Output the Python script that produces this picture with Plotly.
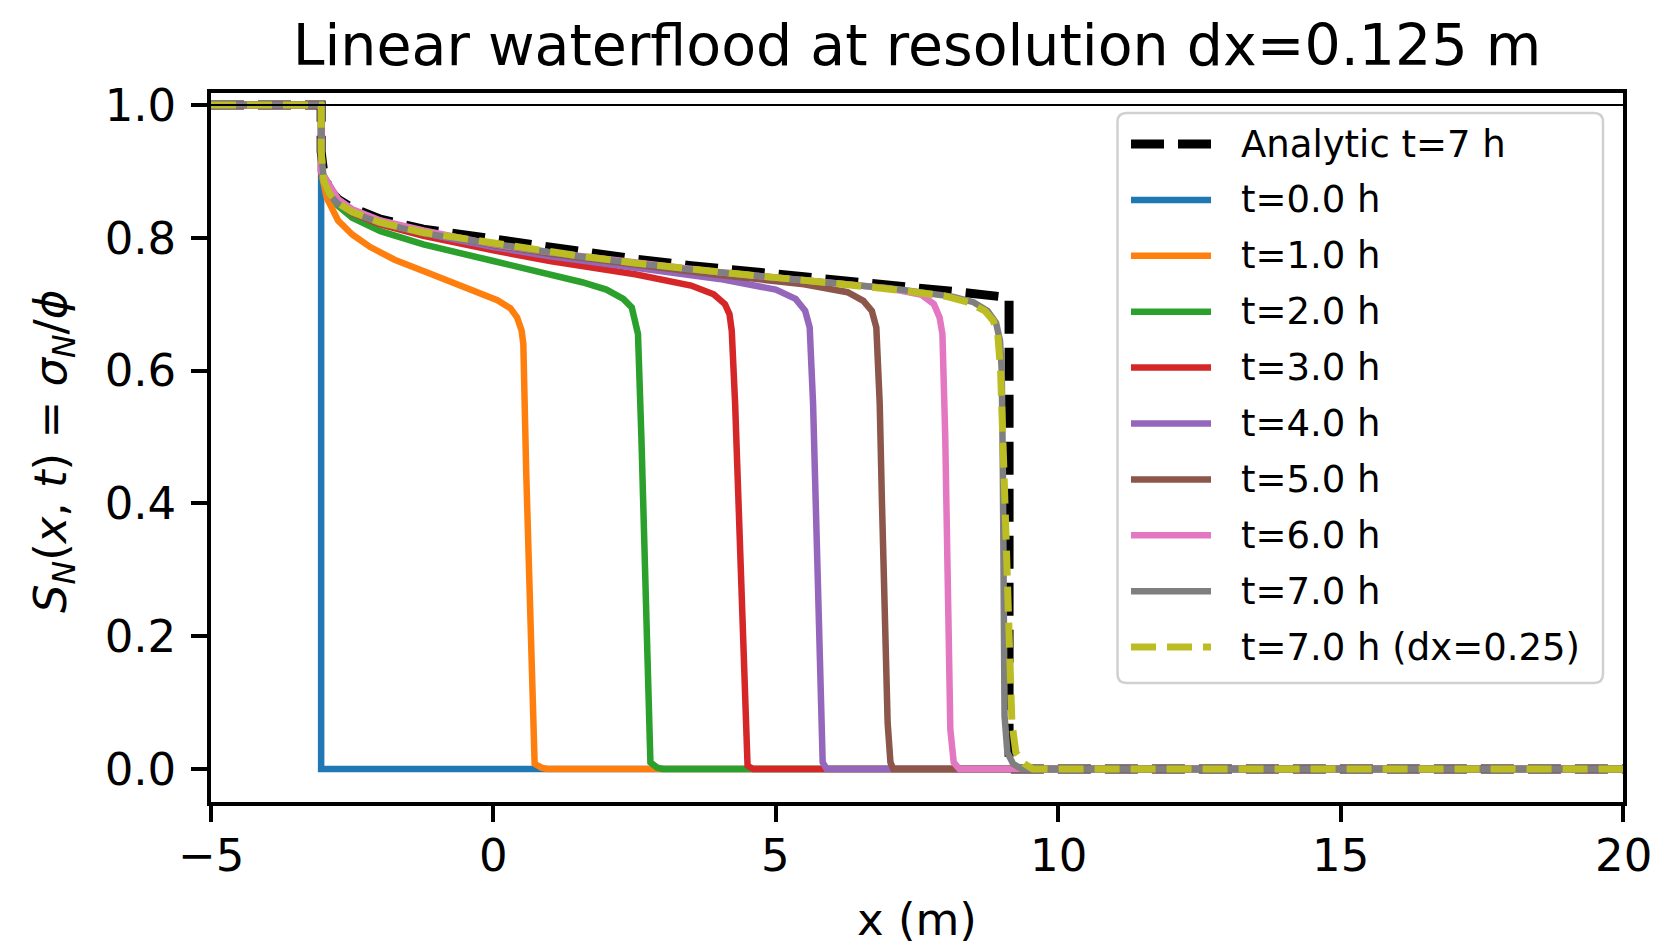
import plotly.graph_objects as go

# ---- saturation profiles S_N(x, t) along the core (x in metres) ----
X_ANALYTIC = [-5.0, -3.05, -3.05, -3.0, -2.9, -2.75, -2.5, -2.0, -1.24, 0.0, 0.63, 1.5,
              2.5, 3.5, 4.4, 5.5, 6.3, 7.2, 8.15, 9.13, 9.13, 20.0]
S_ANALYTIC = [1.0, 1.0, 0.93, 0.895, 0.872, 0.858, 0.845, 0.828, 0.813, 0.797, 0.790, 0.779,
              0.768, 0.758, 0.751, 0.742, 0.736, 0.728, 0.719, 0.710, 0.0, 0.0]

X_T0 = [-5.0, -3.05, -3.05, 20.0]
S_T0 = [1.0, 1.0, 0.0, 0.0]

X_T1 = [-5.0, -3.05, -3.05, -2.95, -2.75, -2.5, -2.18, -1.75, -1.24, -0.49, 0.07, 0.3, 0.42,
        0.5, 0.53, 0.58, 0.65, 0.70, 0.73, 0.85, 0.95, 20.0]
S_T1 = [1.0, 1.0, 0.90, 0.86, 0.826, 0.805, 0.786, 0.767, 0.750, 0.726, 0.706, 0.694, 0.68,
        0.66, 0.64, 0.45, 0.20, 0.03, 0.008, 0.002, 0.0, 0.0]

X_T2 = [-5.0, -3.05, -3.05, -2.9, -2.75, -2.5, -2.0, -1.24, 0.0, 1.0, 1.57, 2.0, 2.3, 2.45,
        2.52, 2.56, 2.62, 2.70, 2.76, 2.78, 2.9, 3.0, 20.0]
S_T2 = [1.0, 1.0, 0.90, 0.868, 0.848, 0.83, 0.81, 0.79, 0.765, 0.745, 0.733, 0.722, 0.708, 0.695,
        0.675, 0.655, 0.50, 0.25, 0.05, 0.01, 0.002, 0.0, 0.0]

X_T3 = [-5.0, -3.05, -3.05, -2.9, -2.75, -2.5, -2.0, -1.24, 0.0, 1.0, 2.51, 3.5, 3.9, 4.1, 4.18,
        4.22, 4.28, 4.36, 4.43, 4.47, 4.5, 4.6, 20.0]
S_T3 = [1.0, 1.0, 0.90, 0.873, 0.853, 0.837, 0.82, 0.803, 0.781, 0.765, 0.745, 0.728, 0.715, 0.700,
        0.685, 0.66, 0.55, 0.35, 0.15, 0.02, 0.005, 0.0, 0.0]

X_T4 = [-5.0, -3.05, -3.05, -2.9, -2.75, -2.5, -2.0, -1.24, 0.0, 1.0, 2.51, 4.0, 5.0, 5.35, 5.52,
        5.60, 5.66, 5.73, 5.80, 5.83, 5.9, 20.0]
S_T4 = [1.0, 1.0, 0.90, 0.876, 0.856, 0.84, 0.823, 0.807, 0.786, 0.772, 0.755, 0.738, 0.722, 0.708,
        0.690, 0.665, 0.55, 0.35, 0.10, 0.01, 0.0, 0.0]

X_T5 = [-5.0, -3.05, -3.05, -2.9, -2.75, -2.5, -2.0, -1.24, 0.0, 1.0, 2.5, 4.0, 5.5, 6.27, 6.55,
        6.7, 6.78, 6.84, 6.88, 6.94, 6.98, 7.03, 7.08, 20.0]
S_T5 = [1.0, 1.0, 0.90, 0.877, 0.857, 0.842, 0.825, 0.81, 0.789, 0.776, 0.759, 0.744, 0.73, 0.718,
        0.705, 0.69, 0.665, 0.55, 0.40, 0.20, 0.07, 0.01, 0.0, 0.0]

X_T6 = [-5.0, -3.05, -3.05, -2.9, -2.75, -2.5, -2.0, -1.24, 0.0, 1.0, 2.5, 4.0, 5.5, 7.0, 7.58,
        7.8, 7.9, 7.95, 8.0, 8.05, 8.09, 8.15, 8.25, 20.0]
S_T6 = [1.0, 1.0, 0.90, 0.878, 0.858, 0.843, 0.826, 0.811, 0.79, 0.778, 0.762, 0.748, 0.736, 0.724,
        0.714, 0.70, 0.68, 0.655, 0.50, 0.25, 0.06, 0.01, 0.0, 0.0]

X_T7 = [-5.0, -3.05, -3.05, -3.0, -2.9, -2.75, -2.5, -2.0, -1.24, 0.0, 0.63, 1.5, 2.5, 3.5, 4.4,
        5.5, 6.3, 7.2, 8.15, 8.5, 8.75, 8.9, 8.97, 9.0, 9.02, 9.04, 9.05, 9.1, 9.2, 9.35, 20.0]
S_T7 = [1.0, 1.0, 0.93, 0.885, 0.865, 0.851, 0.838, 0.822, 0.807, 0.790, 0.783, 0.772, 0.761, 0.752,
        0.745, 0.736, 0.730, 0.722, 0.711, 0.703, 0.690, 0.672, 0.645, 0.60, 0.45, 0.25, 0.08,
        0.025, 0.008, 0.0, 0.0]

X_T7_COARSE = [-5.0, -3.05, -3.05, -3.0, -2.9, -2.75, -2.5, -2.0, -1.24, 0.0, 0.63, 1.5, 2.5, 3.5,
               4.4, 5.5, 6.3, 7.2, 8.0, 8.4, 8.7, 8.85, 8.93, 8.98, 9.05, 9.12, 9.18, 9.25, 9.4,
               9.55, 20.0]
S_T7_COARSE = [1.0, 1.0, 0.93, 0.885, 0.866, 0.852, 0.839, 0.823, 0.808, 0.791, 0.784, 0.773,
               0.762, 0.752, 0.745, 0.736, 0.730, 0.721, 0.712, 0.703, 0.690, 0.675, 0.655, 0.60,
               0.42, 0.22, 0.07, 0.025, 0.008, 0.0, 0.0]

NAMES = ["Analytic t=7 h", "t=0.0 h", "t=1.0 h", "t=2.0 h", "t=3.0 h", "t=4.0 h",
         "t=5.0 h", "t=6.0 h", "t=7.0 h", "t=7.0 h (dx=0.25)"]
COLORS = ["#000000", "#1f77b4", "#ff7f0e", "#2ca02c", "#d62728", "#9467bd",
          "#8c564b", "#e377c2", "#7f7f7f", "#bcbd22"]
DASHES = ["33px,14px", "solid", "solid", "solid", "solid", "solid",
          "solid", "solid", "solid", "25px,11px"]
WIDTHS = [9, 6.5, 6.5, 6.5, 6.5, 6.5, 6.5, 6.5, 6.5, 7]

XS = [X_ANALYTIC, X_T0, X_T1, X_T2, X_T3, X_T4, X_T5, X_T6, X_T7, X_T7_COARSE]
SS = [S_ANALYTIC, S_T0, S_T1, S_T2, S_T3, S_T4, S_T5, S_T6, S_T7, S_T7_COARSE]

X_TICKS = [-5, 0, 5, 10, 15, 20]
X_TICK_LABELS = ["\u22125", "0", "5", "10", "15", "20"]
Y_TICKS = [0.0, 0.2, 0.4, 0.6, 0.8, 1.0]

FONT = "DejaVu Sans"

# ---- page geometry (pixels) ----
W, H = 1661, 945
ML, MR, MT, MB = 211, 38, 93, 143
PW, PH = W - ML - MR, H - MT - MB


def px(X):
    return (X - ML) / PW


def py(Y):
    return 1 - (Y - MT) / PH


fig = go.Figure()
for x, s, name, c, d, w in zip(XS, SS, NAMES, COLORS, DASHES, WIDTHS):
    fig.add_trace(go.Scatter(x=x, y=s, mode="lines", name=name, showlegend=False,
                             line=dict(color=c, width=w, dash=d)))

shapes = []
annotations = []

# reference line at full saturation
shapes.append(dict(type="line", xref="paper", yref="y", x0=0, x1=1, y0=1.0, y1=1.0,
                   line=dict(color="black", width=2), layer="above"))

# legend box with rounded corners
bx0, bx1, by0, by1, r = px(1117.5), px(1603), py(113), py(683), 9
rx, ry = r / PW, r / PH
path = (f"M{bx0 + rx},{by0} L{bx1 - rx},{by0} Q{bx1},{by0} {bx1},{by0 - ry} "
        f"L{bx1},{by1 + ry} Q{bx1},{by1} {bx1 - rx},{by1} L{bx0 + rx},{by1} "
        f"Q{bx0},{by1} {bx0},{by1 + ry} L{bx0},{by0 - ry} Q{bx0},{by0} {bx0 + rx},{by0} Z")
shapes.append(dict(type="path", xref="paper", yref="paper", path=path,
                   fillcolor="rgba(255,255,255,0.8)",
                   line=dict(color="#d0d0d0", width=2.5), layer="above"))

row0, drow = 144, 55.9
for i, (name, c, d, w) in enumerate(zip(NAMES, COLORS, DASHES, WIDTHS)):
    yc = row0 + i * drow
    shapes.append(dict(type="line", xref="paper", yref="paper",
                       x0=px(1131), x1=px(1211), y0=py(yc), y1=py(yc),
                       line=dict(color=c, width=w, dash=d), layer="above"))
    annotations.append(dict(text=name, xref="paper", yref="paper", x=px(1239), y=py(yc),
                            xanchor="left", yanchor="middle", showarrow=False,
                            font=dict(family=FONT, size=37, color="black")))

# x tick labels, placed under the axis ticks
for v, lab in zip(X_TICKS, X_TICK_LABELS):
    annotations.append(dict(text=lab, xref="x", yref="paper", x=v, y=py(855),
                            xanchor="center", yanchor="middle", showarrow=False,
                            font=dict(family=FONT, size=45, color="black")))

# axis labels
annotations.append(dict(text="x (m)", xref="paper", yref="paper", x=0.5, y=py(919),
                        xanchor="center", yanchor="middle", showarrow=False,
                        font=dict(family=FONT, size=45, color="black")))
annotations.append(dict(
    text="<i>S</i><sub><i>N</i></sub>(<i>x</i>, <i>t</i>) = <i>σ</i><sub><i>N</i></sub>/<i>ϕ</i>",
    xref="paper", yref="paper", x=px(53), y=py(452), xanchor="center", yanchor="middle",
    textangle=-90, showarrow=False, font=dict(family=FONT, size=45, color="black")))

axis_common = dict(showline=True, mirror=True, linecolor="black", linewidth=3.5,
                   ticks="outside", ticklen=16, tickwidth=3.5, tickcolor="black",
                   showgrid=False, zeroline=False,
                   tickfont=dict(family=FONT, size=45, color="black"))

fig.update_layout(
    width=W, height=H,
    margin=dict(l=ML, r=MR, t=MT, b=MB, pad=0),
    paper_bgcolor="white", plot_bgcolor="white",
    title=dict(text="Linear waterflood at resolution dx=0.125 m", xref="paper", x=0.5,
               xanchor="center", yref="container", y=1 - 45.5 / H, yanchor="middle",
               font=dict(family=FONT, size=57, color="black")),
    xaxis=dict(range=[-5, 20], tickvals=X_TICKS, showticklabels=False, **axis_common),
    yaxis=dict(range=[-0.0497, 1.018], tickvals=Y_TICKS, tickformat=".1f",
               ticklabelstandoff=6, **axis_common),
    shapes=shapes, annotations=annotations, showlegend=False,
)

fig.write_html("out.html")
